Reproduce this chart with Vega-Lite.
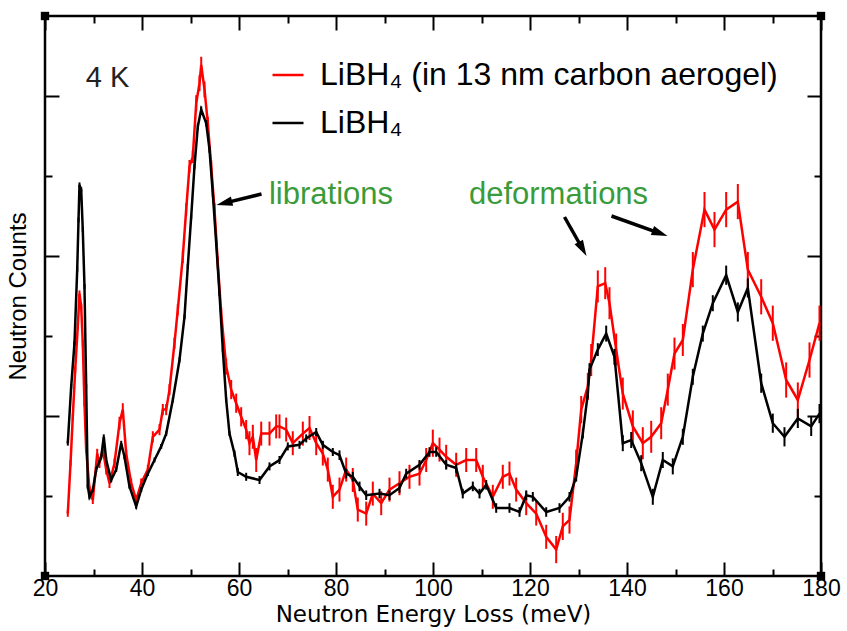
{
  "$schema": "https://vega.github.io/schema/vega-lite/v6.json",
  "width": 776,
  "height": 560,
  "autosize": {"type": "none"},
  "padding": {"left": 45, "top": 16, "right": 26, "bottom": 55},
  "background": "white",
  "config": {
    "view": {"stroke": "#000", "strokeWidth": 2.5},
    "font": "Liberation Sans",
    "axis": {"domain": false, "grid": false, "tickColor": "#000", "tickWidth": 2, "labelColor": "#000", "titleColor": "#000", "titleFontWeight": "normal", "labelFont": "Liberation Sans", "titleFont": "Liberation Sans", "labelFlush": false}
  },
  "datasets": {
    "spec": [
      {"s":"a","E":24.70,"c":0.78,"e":0.04},{"s":"a","E":25.26,"c":1.41,"e":0.04},{"s":"a","E":25.73,"c":1.99,"e":0.04},{"s":"a","E":26.23,"c":2.58,"e":0.04},{"s":"a","E":26.76,"c":3.12,"e":0.04},{"s":"a","E":27.11,"c":3.53,"e":0.04},{"s":"a","E":27.46,"c":3.37,"e":0.04},{"s":"a","E":27.79,"c":2.91,"e":0.04},{"s":"a","E":28.14,"c":2.16,"e":0.04},{"s":"a","E":28.49,"c":1.58,"e":0.04},{"s":"a","E":29.18,"c":1.08,"e":0.05},{"s":"a","E":29.86,"c":0.95,"e":0.05},{"s":"a","E":30.76,"c":1.53,"e":0.06},{"s":"a","E":31.24,"c":1.41,"e":0.06},{"s":"a","E":31.92,"c":1.58,"e":0.06},{"s":"a","E":32.62,"c":1.33,"e":0.06},{"s":"a","E":33.30,"c":1.16,"e":0.06},{"s":"a","E":34.33,"c":1.41,"e":0.06},{"s":"a","E":35.36,"c":1.91,"e":0.08},{"s":"a","E":36.04,"c":2.08,"e":0.08},{"s":"a","E":36.74,"c":1.53,"e":0.06},{"s":"a","E":37.77,"c":1.16,"e":0.06},{"s":"a","E":38.80,"c":0.95,"e":0.06},{"s":"a","E":39.84,"c":1.16,"e":0.06},{"s":"a","E":41.20,"c":1.33,"e":0.06},{"s":"a","E":42.23,"c":1.74,"e":0.07},{"s":"a","E":43.61,"c":1.83,"e":0.07},{"s":"a","E":44.29,"c":2.08,"e":0.07},{"s":"a","E":44.99,"c":2.08,"e":0.07},{"s":"a","E":45.67,"c":2.33,"e":0.07},{"s":"a","E":46.70,"c":2.91,"e":0.07},{"s":"a","E":47.38,"c":3.33,"e":0.07},{"s":"a","E":48.41,"c":3.99,"e":0.08},{"s":"a","E":49.11,"c":4.58,"e":0.08},{"s":"a","E":49.79,"c":5.12,"e":0.08},{"s":"a","E":50.47,"c":5.24,"e":0.08},{"s":"a","E":51.18,"c":5.91,"e":0.1},{"s":"a","E":51.86,"c":6.16,"e":0.1},{"s":"a","E":52.21,"c":6.39,"e":0.1},{"s":"a","E":52.89,"c":6.08,"e":0.1},{"s":"a","E":53.57,"c":5.66,"e":0.08},{"s":"a","E":54.27,"c":5.12,"e":0.08},{"s":"a","E":54.95,"c":4.58,"e":0.08},{"s":"a","E":55.63,"c":3.91,"e":0.08},{"s":"a","E":56.33,"c":3.28,"e":0.08},{"s":"a","E":57.36,"c":2.62,"e":0.1},{"s":"a","E":58.39,"c":2.33,"e":0.12},{"s":"a","E":59.42,"c":2.16,"e":0.12},{"s":"a","E":60.45,"c":1.99,"e":0.12},{"s":"a","E":61.48,"c":1.83,"e":0.12},{"s":"a","E":62.16,"c":1.66,"e":0.15},{"s":"a","E":62.85,"c":1.74,"e":0.15},{"s":"a","E":63.55,"c":1.45,"e":0.15},{"s":"a","E":64.58,"c":1.78,"e":0.15},{"s":"a","E":66.29,"c":1.78,"e":0.15},{"s":"a","E":67.67,"c":1.87,"e":0.15},{"s":"a","E":68.35,"c":1.87,"e":0.15},{"s":"a","E":69.73,"c":1.83,"e":0.15},{"s":"a","E":71.09,"c":1.66,"e":0.15},{"s":"a","E":73.16,"c":1.78,"e":0.15},{"s":"a","E":74.54,"c":1.85,"e":0.15},{"s":"a","E":75.92,"c":1.66,"e":0.15},{"s":"a","E":77.28,"c":1.53,"e":0.15},{"s":"a","E":78.31,"c":1.33,"e":0.15},{"s":"a","E":79.34,"c":0.99,"e":0.15},{"s":"a","E":80.72,"c":1.08,"e":0.15},{"s":"a","E":82.10,"c":1.33,"e":0.15},{"s":"a","E":83.46,"c":1.2,"e":0.15},{"s":"a","E":84.49,"c":0.83,"e":0.15},{"s":"a","E":86.23,"c":0.78,"e":0.15},{"s":"a","E":87.59,"c":1.03,"e":0.15},{"s":"a","E":89.32,"c":0.91,"e":0.15},{"s":"a","E":91.03,"c":1.08,"e":0.15},{"s":"a","E":93.09,"c":1.16,"e":0.15},{"s":"a","E":95.15,"c":1.24,"e":0.15},{"s":"a","E":97.22,"c":1.28,"e":0.15},{"s":"a","E":98.60,"c":1.45,"e":0.15},{"s":"a","E":99.96,"c":1.66,"e":0.17},{"s":"a","E":101.34,"c":1.58,"e":0.15},{"s":"a","E":102.72,"c":1.49,"e":0.15},{"s":"a","E":104.78,"c":1.39,"e":0.15},{"s":"a","E":106.85,"c":1.45,"e":0.15},{"s":"a","E":108.91,"c":1.45,"e":0.15},{"s":"a","E":110.27,"c":1.24,"e":0.15},{"s":"a","E":112.33,"c":0.99,"e":0.15},{"s":"a","E":114.39,"c":1.24,"e":0.15},{"s":"a","E":115.77,"c":1.28,"e":0.15},{"s":"a","E":117.15,"c":1.08,"e":0.15},{"s":"a","E":119.22,"c":0.91,"e":0.15},{"s":"a","E":121.28,"c":0.78,"e":0.15},{"s":"a","E":123.34,"c":0.49,"e":0.15},{"s":"a","E":125.40,"c":0.33,"e":0.17},{"s":"a","E":126.76,"c":0.62,"e":0.17},{"s":"a","E":128.14,"c":0.7,"e":0.17},{"s":"a","E":129.52,"c":1.41,"e":0.17},{"s":"a","E":130.56,"c":2.08,"e":0.17},{"s":"a","E":131.92,"c":2.37,"e":0.17},{"s":"a","E":132.62,"c":2.7,"e":0.2},{"s":"a","E":133.98,"c":3.62,"e":0.2},{"s":"a","E":135.51,"c":3.66,"e":0.2},{"s":"a","E":136.39,"c":3.41,"e":0.2},{"s":"a","E":137.77,"c":2.83,"e":0.2},{"s":"a","E":139.13,"c":2.28,"e":0.2},{"s":"a","E":141.20,"c":1.87,"e":0.2},{"s":"a","E":143.26,"c":1.66,"e":0.2},{"s":"a","E":144.99,"c":1.74,"e":0.2},{"s":"a","E":147.05,"c":1.91,"e":0.2},{"s":"a","E":148.41,"c":2.33,"e":0.2},{"s":"a","E":149.79,"c":2.78,"e":0.2},{"s":"a","E":151.51,"c":2.95,"e":0.2},{"s":"a","E":153.57,"c":3.83,"e":0.22},{"s":"a","E":155.98,"c":4.58,"e":0.22},{"s":"a","E":158.04,"c":4.33,"e":0.22},{"s":"a","E":160.45,"c":4.58,"e":0.22},{"s":"a","E":162.85,"c":4.68,"e":0.22},{"s":"a","E":164.91,"c":3.83,"e":0.22},{"s":"a","E":167.67,"c":3.49,"e":0.22},{"s":"a","E":170.06,"c":3.16,"e":0.22},{"s":"a","E":172.82,"c":2.45,"e":0.22},{"s":"a","E":175.22,"c":2.2,"e":0.22},{"s":"a","E":177.63,"c":2.7,"e":0.22},{"s":"a","E":179.69,"c":3.16,"e":0.22},
      {"s":"b","E":24.70,"c":1.66,"e":0.03},{"s":"b","E":25.40,"c":2.37,"e":0.03},{"s":"b","E":26.08,"c":2.91,"e":0.03},{"s":"b","E":26.64,"c":3.83,"e":0.03},{"s":"b","E":26.91,"c":4.45,"e":0.03},{"s":"b","E":27.11,"c":4.89,"e":0.03},{"s":"b","E":27.46,"c":4.83,"e":0.03},{"s":"b","E":27.79,"c":4.33,"e":0.03},{"s":"b","E":28.14,"c":3.62,"e":0.03},{"s":"b","E":28.49,"c":2.37,"e":0.03},{"s":"b","E":28.82,"c":1.12,"e":0.03},{"s":"b","E":29.18,"c":0.99,"e":0.03},{"s":"b","E":29.86,"c":1.08,"e":0.03},{"s":"b","E":30.56,"c":1.33,"e":0.03},{"s":"b","E":31.59,"c":1.49,"e":0.03},{"s":"b","E":32.12,"c":1.74,"e":0.03},{"s":"b","E":32.62,"c":1.45,"e":0.03},{"s":"b","E":33.65,"c":1.2,"e":0.03},{"s":"b","E":34.68,"c":1.33,"e":0.03},{"s":"b","E":35.71,"c":1.66,"e":0.03},{"s":"b","E":36.39,"c":1.49,"e":0.03},{"s":"b","E":37.42,"c":1.12,"e":0.03},{"s":"b","E":38.80,"c":0.87,"e":0.03},{"s":"b","E":39.84,"c":1.08,"e":0.03},{"s":"b","E":41.20,"c":1.28,"e":0.03},{"s":"b","E":42.58,"c":1.45,"e":0.03},{"s":"b","E":43.96,"c":1.62,"e":0.03},{"s":"b","E":44.99,"c":1.78,"e":0.03},{"s":"b","E":46.35,"c":2.2,"e":0.03},{"s":"b","E":47.73,"c":2.7,"e":0.03},{"s":"b","E":48.76,"c":3.24,"e":0.03},{"s":"b","E":49.44,"c":3.87,"e":0.03},{"s":"b","E":50.14,"c":4.49,"e":0.03},{"s":"b","E":50.82,"c":5.12,"e":0.03},{"s":"b","E":51.51,"c":5.62,"e":0.04},{"s":"b","E":52.21,"c":5.83,"e":0.04},{"s":"b","E":53.24,"c":5.66,"e":0.04},{"s":"b","E":53.92,"c":5.33,"e":0.04},{"s":"b","E":54.60,"c":4.78,"e":0.04},{"s":"b","E":55.30,"c":4.16,"e":0.03},{"s":"b","E":55.98,"c":3.53,"e":0.03},{"s":"b","E":56.66,"c":2.83,"e":0.03},{"s":"b","E":57.36,"c":2.2,"e":0.03},{"s":"b","E":58.04,"c":1.78,"e":0.03},{"s":"b","E":59.07,"c":1.53,"e":0.04},{"s":"b","E":59.75,"c":1.3,"e":0.05},{"s":"b","E":61.48,"c":1.24,"e":0.05},{"s":"b","E":64.23,"c":1.2,"e":0.05},{"s":"b","E":66.29,"c":1.37,"e":0.05},{"s":"b","E":68.35,"c":1.45,"e":0.05},{"s":"b","E":70.06,"c":1.62,"e":0.05},{"s":"b","E":72.47,"c":1.64,"e":0.05},{"s":"b","E":73.86,"c":1.72,"e":0.05},{"s":"b","E":75.92,"c":1.8,"e":0.05},{"s":"b","E":77.28,"c":1.64,"e":0.05},{"s":"b","E":79.34,"c":1.55,"e":0.05},{"s":"b","E":80.72,"c":1.51,"e":0.06},{"s":"b","E":82.10,"c":1.28,"e":0.06},{"s":"b","E":83.46,"c":1.24,"e":0.06},{"s":"b","E":84.85,"c":1.12,"e":0.06},{"s":"b","E":86.23,"c":1.01,"e":0.06},{"s":"b","E":88.97,"c":1.03,"e":0.06},{"s":"b","E":91.03,"c":1.01,"e":0.06},{"s":"b","E":93.09,"c":1.1,"e":0.06},{"s":"b","E":94.47,"c":1.28,"e":0.06},{"s":"b","E":97.22,"c":1.39,"e":0.06},{"s":"b","E":99.28,"c":1.55,"e":0.06},{"s":"b","E":100.66,"c":1.55,"e":0.06},{"s":"b","E":102.72,"c":1.39,"e":0.06},{"s":"b","E":104.78,"c":1.35,"e":0.06},{"s":"b","E":106.14,"c":1.03,"e":0.06},{"s":"b","E":108.21,"c":1.12,"e":0.06},{"s":"b","E":109.59,"c":1.03,"e":0.06},{"s":"b","E":110.97,"c":1.14,"e":0.06},{"s":"b","E":113.03,"c":0.85,"e":0.06},{"s":"b","E":115.77,"c":0.85,"e":0.06},{"s":"b","E":117.84,"c":0.8,"e":0.06},{"s":"b","E":119.22,"c":1.01,"e":0.06},{"s":"b","E":120.58,"c":0.99,"e":0.06},{"s":"b","E":123.34,"c":0.8,"e":0.06},{"s":"b","E":126.08,"c":0.85,"e":0.06},{"s":"b","E":128.14,"c":0.99,"e":0.06},{"s":"b","E":129.52,"c":1.24,"e":0.06},{"s":"b","E":130.89,"c":1.78,"e":0.06},{"s":"b","E":131.92,"c":2.28,"e":0.06},{"s":"b","E":132.27,"c":2.58,"e":0.08},{"s":"b","E":133.98,"c":2.83,"e":0.08},{"s":"b","E":135.71,"c":3.03,"e":0.1},{"s":"b","E":137.42,"c":2.74,"e":0.1},{"s":"b","E":139.13,"c":1.66,"e":0.1},{"s":"b","E":140.87,"c":1.7,"e":0.1},{"s":"b","E":142.93,"c":1.41,"e":0.1},{"s":"b","E":145.32,"c":0.99,"e":0.1},{"s":"b","E":147.38,"c":1.45,"e":0.1},{"s":"b","E":149.44,"c":1.37,"e":0.1},{"s":"b","E":151.51,"c":1.74,"e":0.1},{"s":"b","E":153.57,"c":2.49,"e":0.1},{"s":"b","E":155.63,"c":3.03,"e":0.1},{"s":"b","E":157.69,"c":3.41,"e":0.1},{"s":"b","E":160.45,"c":3.76,"e":0.12},{"s":"b","E":162.85,"c":3.3,"e":0.12},{"s":"b","E":164.91,"c":3.6,"e":0.12},{"s":"b","E":167.67,"c":2.41,"e":0.12},{"s":"b","E":170.06,"c":1.91,"e":0.12},{"s":"b","E":172.47,"c":1.74,"e":0.12},{"s":"b","E":175.22,"c":1.97,"e":0.12},{"s":"b","E":177.98,"c":1.87,"e":0.12},{"s":"b","E":179.69,"c":2.03,"e":0.12}
    ],
    "corners": [{"E":20,"c":0},{"E":180,"c":0},{"E":20,"c":7},{"E":180,"c":7}],
    "notes": [
      {"k":"temp","label":"4 K","E":32.9,"c":6.11},
      {"k":"mode","label":"librations","E":78.97,"c":4.65},
      {"k":"mode","label":"deformations","E":125.88,"c":4.65}
    ],
    "arrows": [
      {"id":1,"E":64.64,"c":4.775,"E2":56.97,"c2":4.661},
      {"id":2,"E":127.11,"c":4.4875,"E2":130.85,"c2":4.0875},
      {"id":3,"E":136.80,"c":4.5,"E2":146.8,"c2":4.284}
    ]
  },
  "layer": [
    {
      "data": {"name": "spec"},
      "transform": [{"filter": "datum.s == 'a'"}],
      "mark": {"type": "line", "strokeWidth": 2.5},
      "encoding": {
        "x": {"field": "E", "type": "quantitative", "scale": {"domain": [20, 180], "nice": false, "zero": false},
              "axis": {"orient": "bottom", "values": [20,40,60,80,100,120,140,160,180], "tickSize": -14, "labelFontSize": 23, "labelPadding": 15, "title": "Neutron Energy Loss (meV)", "titleFont": "DejaVu Sans", "titleFontSize": 23, "titlePadding": 3}},
        "y": {"field": "c", "type": "quantitative", "scale": {"domain": [0, 7], "nice": false, "zero": false},
              "axis": {"orient": "left", "values": [2,4,6], "tickSize": -14, "labels": false, "title": "Neutron Counts", "titleFontSize": 24, "titlePadding": 14}},
        "color": {"field": "s", "type": "nominal", "scale": {"domain": ["a", "b"], "range": ["#ff0000", "#000000"]},
                  "legend": {"orient": "none", "legendX": 226, "legendY": 42, "title": null, "symbolType": "stroke", "symbolSize": 961, "symbolStrokeWidth": 2.5, "labelFontSize": 32, "labelFont": "Liberation Sans", "labelColor": "#000", "labelOffset": 15, "rowPadding": 15, "labelLimit": 0,
                             "labelExpr": "datum.value == 'a' ? 'LiBH₄ (in 13 nm carbon aerogel)' : 'LiBH₄'"}}
      }
    },
    {
      "data": {"name": "spec"},
      "transform": [{"filter": "datum.s == 'a'"}],
      "mark": {"type": "errorbar", "color": "#ff0000", "thickness": 2},
      "encoding": {
        "x": {"field": "E", "type": "quantitative", "scale": {"domain": [20, 180], "nice": false, "zero": false},
              "axis": {"orient": "bottom", "values": [30,50,70,90,110,130,150,170], "tickSize": -7, "labels": false, "title": null}},
        "y": {"field": "c", "type": "quantitative", "scale": {"domain": [0, 7], "nice": false, "zero": false},
              "axis": {"orient": "left", "values": [1,3,5], "tickSize": -7, "labels": false, "title": null}},
        "yError": {"field": "e"}
      }
    },
    {
      "data": {"name": "spec"},
      "transform": [{"filter": "datum.s == 'b'"}],
      "mark": {"type": "line", "strokeWidth": 2.5},
      "encoding": {
        "x": {"field": "E", "type": "quantitative", "scale": {"domain": [20, 180], "nice": false, "zero": false},
              "axis": {"orient": "top", "values": [20,40,60,80,100,120,140,160,180], "tickSize": -14, "labels": false, "title": null}},
        "y": {"field": "c", "type": "quantitative", "scale": {"domain": [0, 7], "nice": false, "zero": false},
              "axis": {"orient": "right", "values": [2,4,6], "tickSize": -14, "labels": false, "title": null}},
        "color": {"field": "s", "type": "nominal", "scale": {"domain": ["a", "b"], "range": ["#ff0000", "#000000"]}}
      }
    },
    {
      "data": {"name": "spec"},
      "transform": [{"filter": "datum.s == 'b'"}],
      "mark": {"type": "errorbar", "color": "#000000", "thickness": 2},
      "encoding": {
        "x": {"field": "E", "type": "quantitative", "scale": {"domain": [20, 180], "nice": false, "zero": false},
              "axis": {"orient": "top", "values": [30,50,70,90,110,130,150,170], "tickSize": -7, "labels": false, "title": null}},
        "y": {"field": "c", "type": "quantitative", "scale": {"domain": [0, 7], "nice": false, "zero": false},
              "axis": {"orient": "right", "values": [1,3,5], "tickSize": -7, "labels": false, "title": null}},
        "yError": {"field": "e"}
      }
    },
    {
      "data": {"name": "corners"},
      "mark": {"type": "point", "shape": "square", "filled": true, "color": "#000", "size": 70, "opacity": 1},
      "encoding": {
        "x": {"field": "E", "type": "quantitative", "scale": {"domain": [20, 180], "nice": false, "zero": false}, "axis": null},
        "y": {"field": "c", "type": "quantitative", "scale": {"domain": [0, 7], "nice": false, "zero": false}, "axis": null}
      }
    },
    {
      "data": {"name": "notes"},
      "transform": [{"filter": "datum.k == 'temp'"}],
      "mark": {"type": "text", "font": "Liberation Sans", "fontSize": 29, "color": "#222", "align": "center", "baseline": "alphabetic"},
      "encoding": {
        "x": {"field": "E", "type": "quantitative", "scale": {"domain": [20, 180], "nice": false, "zero": false}, "axis": null},
        "y": {"field": "c", "type": "quantitative", "scale": {"domain": [0, 7], "nice": false, "zero": false}, "axis": null},
        "text": {"field": "label"}
      }
    },
    {
      "data": {"name": "notes"},
      "transform": [{"filter": "datum.k == 'mode'"}],
      "mark": {"type": "text", "font": "Liberation Sans", "fontSize": 31, "color": "#3a9b3a", "align": "center", "baseline": "alphabetic"},
      "encoding": {
        "x": {"field": "E", "type": "quantitative", "scale": {"domain": [20, 180], "nice": false, "zero": false}, "axis": null},
        "y": {"field": "c", "type": "quantitative", "scale": {"domain": [0, 7], "nice": false, "zero": false}, "axis": null},
        "text": {"field": "label"}
      }
    },
    {
      "data": {"name": "arrows"},
      "mark": {"type": "rule", "strokeWidth": 3.5, "color": "#000"},
      "encoding": {
        "x": {"field": "E", "type": "quantitative", "scale": {"domain": [20, 180], "nice": false, "zero": false}, "axis": null},
        "y": {"field": "c", "type": "quantitative", "scale": {"domain": [0, 7], "nice": false, "zero": false}, "axis": null},
        "x2": {"field": "E2"},
        "y2": {"field": "c2"}
      }
    },
    {
      "data": {"name": "arrows"},
      "transform": [{"filter": "datum.id == 1"}],
      "mark": {"type": "point", "shape": "M0,-1L0.6,1L-0.6,1Z", "filled": true, "color": "#000", "opacity": 1, "size": 256, "angle": 256},
      "encoding": {
        "x": {"field": "E2", "type": "quantitative", "scale": {"domain": [20, 180], "nice": false, "zero": false}, "axis": null},
        "y": {"field": "c2", "type": "quantitative", "scale": {"domain": [0, 7], "nice": false, "zero": false}, "axis": null}
      }
    },
    {
      "data": {"name": "arrows"},
      "transform": [{"filter": "datum.id == 2"}],
      "mark": {"type": "point", "shape": "M0,-1L0.6,1L-0.6,1Z", "filled": true, "color": "#000", "opacity": 1, "size": 256, "angle": 151},
      "encoding": {
        "x": {"field": "E2", "type": "quantitative", "scale": {"domain": [20, 180], "nice": false, "zero": false}, "axis": null},
        "y": {"field": "c2", "type": "quantitative", "scale": {"domain": [0, 7], "nice": false, "zero": false}, "axis": null}
      }
    },
    {
      "data": {"name": "arrows"},
      "transform": [{"filter": "datum.id == 3"}],
      "mark": {"type": "point", "shape": "M0,-1L0.6,1L-0.6,1Z", "filled": true, "color": "#000", "opacity": 1, "size": 256, "angle": 110},
      "encoding": {
        "x": {"field": "E2", "type": "quantitative", "scale": {"domain": [20, 180], "nice": false, "zero": false}, "axis": null},
        "y": {"field": "c2", "type": "quantitative", "scale": {"domain": [0, 7], "nice": false, "zero": false}, "axis": null}
      }
    }
  ],
  "resolve": {"axis": {"x": "independent", "y": "independent"}}
}
